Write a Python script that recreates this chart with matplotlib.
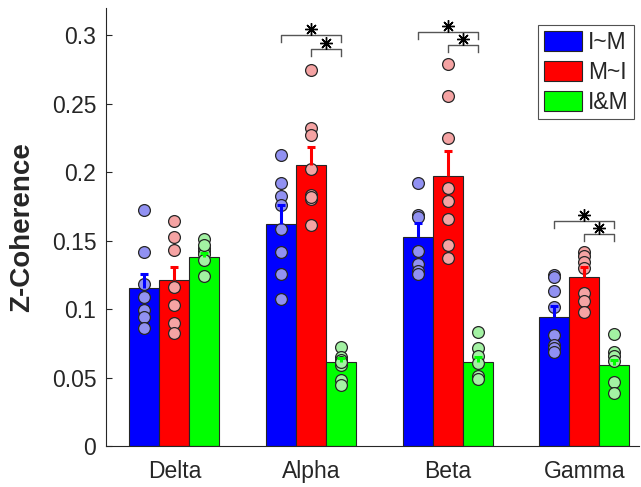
import numpy as np
import matplotlib
matplotlib.use('Agg')
import matplotlib.pyplot as plt
from matplotlib.patches import Patch

plt.rcParams['font.family'] = ['Liberation Sans', 'DejaVu Sans']

bands = ['Delta', 'Alpha', 'Beta', 'Gamma']
conditions = ['I~M', 'M~I', 'I&M']

# bar heights (mean) and upward error (sem)
mean_im = [0.1156, 0.1624, 0.1529, 0.0944]
mean_mi = [0.1214, 0.2056, 0.1975, 0.1236]
mean_both = [0.1383, 0.0614, 0.0614, 0.0593]
sem_im = [0.0102, 0.0139, 0.0102, 0.0080]
sem_mi = [0.0096, 0.0131, 0.0183, 0.0074]
sem_both = [0.0030, 0.0030, 0.0035, 0.0035]

# individual subjects
pts_im = [
    [0.1726, 0.1417, 0.1183, 0.1088, 0.0990, 0.0946, 0.0865],
    [0.2129, 0.1922, 0.1824, 0.1763, 0.1585, 0.1417, 0.1258, 0.1073],
    [0.1922, 0.1690, 0.1673, 0.1426, 0.1331, 0.1275, 0.1260],
    [0.1251, 0.1234, 0.1129, 0.1015, 0.0812, 0.0739, 0.0715, 0.0685],
]
pts_mi = [
    [0.1641, 0.1527, 0.1434, 0.1161, 0.1029, 0.0902, 0.0829],
    [0.2745, 0.2324, 0.2275, 0.2024, 0.1836, 0.1807, 0.1612, 0.1820],
    [0.2792, 0.2555, 0.2251, 0.1885, 0.1787, 0.1661, 0.1470, 0.1370],
    [0.1417, 0.1385, 0.1344, 0.1300, 0.1117, 0.1056, 0.0982],
]
pts_both = [
    [0.1512, 0.1448, 0.1421, 0.1405, 0.1361, 0.1239, 0.1470],
    [0.0726, 0.0653, 0.0629, 0.0593, 0.0483, 0.0446, 0.0610],
    [0.0836, 0.0715, 0.0658, 0.0605, 0.0512, 0.0488],
    [0.0819, 0.0690, 0.0661, 0.0624, 0.0470, 0.0390],
]

# significance brackets: band, from condition, to condition, height
sig_band = [1, 1, 2, 2, 3, 3]
sig_from = [0, 1, 0, 1, 0, 1]
sig_to = [2, 2, 2, 2, 2, 2]
sig_y = [0.3000, 0.2897, 0.3026, 0.2926, 0.1641, 0.1551]

bar_colors = ['#0000FF', '#FF0000', '#00FF00']
dot_colors = ['#9191F2', '#F5A3A3', '#A3F2A3']
ink = '#262626'

means = [mean_im, mean_mi, mean_both]
sems = [sem_im, sem_mi, sem_both]
pts = [pts_im, pts_mi, pts_both]

fig = plt.figure(figsize=(6.41, 4.87), dpi=100)
ax = fig.add_axes([0.1654, 0.0842, 0.8315, 0.8994])

x = np.arange(1, len(bands) + 1)
width = 0.22
offsets = [-width, 0, width]

for k in range(3):
    xs = x + offsets[k]
    ax.bar(xs, means[k], width=width, color=bar_colors[k], edgecolor=ink,
           linewidth=0.8, zorder=1)
    for i in range(len(bands)):
        ax.plot([xs[i]] * len(pts[k][i]), pts[k][i], 'o', ms=8.5,
                mfc=dot_colors[k], mec=ink, mew=0.9, zorder=3)
    tops = np.array(means[k]) + np.array(sems[k])
    ax.vlines(xs, means[k], tops, colors=bar_colors[k], lw=2.2, zorder=4)
    ax.plot(xs, tops, '_', color=bar_colors[k], ms=6, mew=2.2, zorder=4)

drop = 0.005
for b, f, t, y in zip(sig_band, sig_from, sig_to, sig_y):
    x0 = x[b] + offsets[f]
    x1 = x[b] + offsets[t]
    ax.plot([x0, x0, x1, x1], [y - drop, y, y, y - drop], color='#555555',
            lw=1.0, zorder=5)
    ax.plot((x0 + x1) / 2, y + 0.0045, marker=(8, 2, 0), color='black',
            ms=9, mew=1.0, zorder=5)

ax.set_xlim(0.5, 4.4)
ax.set_ylim(0, 0.32)
ax.set_xticks(x)
ax.set_xticklabels(bands)
ax.set_yticks([0, 0.05, 0.1, 0.15, 0.2, 0.25, 0.3])
ax.set_yticklabels(['0', '0.05', '0.1', '0.15', '0.2', '0.25', '0.3'])
ax.tick_params(axis='y', direction='in', length=4, width=0.8, colors=ink,
               labelsize=16.5, pad=7)
ax.tick_params(axis='x', length=0, colors=ink, labelsize=16.5, pad=10)
for s in ['top', 'right']:
    ax.spines[s].set_visible(False)
for s in ['left', 'bottom']:
    ax.spines[s].set_color(ink)
    ax.spines[s].set_linewidth(0.8)

ax.set_ylabel('Z-Coherence', fontsize=20, fontweight='bold', color=ink,
              labelpad=12)

handles = [Patch(facecolor=c, edgecolor=ink, linewidth=0.8) for c in bar_colors]
leg = ax.legend(handles, conditions, loc='upper right',
                bbox_to_anchor=(0.9906, 0.961), fontsize=16.5,
                frameon=True, fancybox=False, handlelength=1.65,
                handleheight=0.95, labelspacing=0.3, handletextpad=0.25,
                borderpad=0.25, borderaxespad=0.0)
leg.get_frame().set_edgecolor('#262626')
leg.get_frame().set_linewidth(0.8)
for t in leg.get_texts():
    t.set_color(ink)

fig.savefig('out.png', dpi=100)
